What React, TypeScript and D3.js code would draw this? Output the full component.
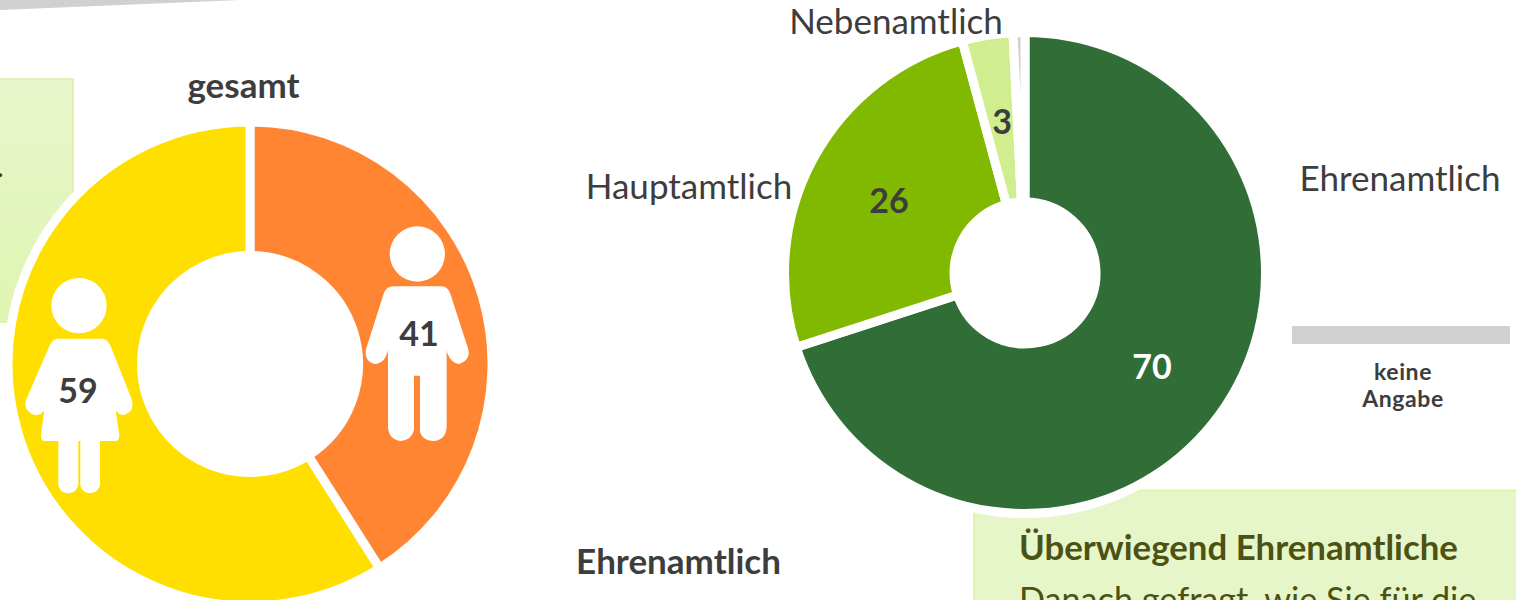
import React from 'react';
import * as d3 from 'd3';

// Data
const genderValues = [41, 59];
const genderText = ['41', '59'];
const genderColors = ['#FF8533', '#FFDF00'];

const roleLabels = ['Ehrenamtlich', 'Hauptamtlich', 'Nebenamtlich', 'keine Angabe'];
const roleValues = [70, 25.8, 3.4, 0.8];
const roleText = ['70', '26', '3'];
const roleColors = ['#316E37', '#80B900', '#D0EE8F', '#D0D0D0'];

const font = 'Lato, sans-serif';
const textDark = '#3d3d3d';

// Icons, drawn at 3x and scaled down
const manBody =
  'M160 229 L305 229 Q322 230 330 248 L385 418 Q392 450 358 462 Q335 462 322 430 L320 420 L320 650 Q318 690 280 693 Q245 690 240 665 L240 497 L222 497 L222 660 Q215 690 182 693 Q146 688 144 650 L144 420 Q135 460 105 462 Q72 455 78 418 L132 248 Q140 230 160 229 Z';
const womanBody =
  'M172 236 L308 236 Q322 238 330 254 L396 420 Q404 455 372 465 Q355 465 347 450 L358 525 Q358 543 345 543 L300 543 L300 675 Q295 698 270 700 Q245 698 241 675 L241 543 L235 543 L235 675 Q230 698 205 700 Q178 698 175 675 L175 543 L132 543 Q122 540 123 525 L133 450 Q125 465 105 465 Q70 455 78 420 L150 254 Q158 238 172 236 Z';

const pieGen = d3.pie<number>().sort(null).value(d => d);

function Ring({ cx, cy, outer, inner, values, colors }: {
  cx: number; cy: number; outer: number; inner: number; values: number[]; colors: string[];
}) {
  // stroke eats half its width on each edge, so grow the arc to compensate
  const arc = d3.arc<d3.PieArcDatum<number>>().innerRadius(inner - 4.5).outerRadius(outer + 4.5);
  return (
    <g transform={`translate(${cx},${cy})`}>
      <circle r={outer + 8} fill="#fff" />
      {pieGen(values).map((d, i) => (
        <path key={i} d={arc(d) || ''} fill={colors[i]} stroke="#fff" strokeWidth={9} />
      ))}
    </g>
  );
}

function Label({ x, y, size, weight = 400, fill = textDark, anchor = 'middle', spacing = 0, children }: any) {
  return (
    <text x={x} y={y} fontSize={size} fontWeight={weight} fill={fill} textAnchor={anchor} fontFamily={font} letterSpacing={spacing}>
      {children}
    </text>
  );
}

export default function App() {
  return (
    <svg width={1516} height={600} style={{ position: 'absolute', left: 0, top: 0, background: '#fff' }}>
      <defs>
        <linearGradient id="boxFill" x1="0" y1="0" x2="0" y2="1">
          <stop offset="0" stopColor="#E8F6CB" />
          <stop offset="1" stopColor="#DFF5B2" />
        </linearGradient>
      </defs>

      {/* slide decoration and text boxes */}
      <path d="M0 0 L240 0 L0 10 Z" fill="#D0D0D0" />
      <rect x={-5} y={79} width={78} height={243} fill="url(#boxFill)" stroke="#D8EFA6" strokeWidth={1.5} />
      <Label x={-3} y={177} size={28} anchor="start" fill="#333">.</Label>
      <rect x={974} y={490.5} width={560} height={130} fill="#E7F6C8" stroke="#D8EFA6" strokeWidth={1.5} />

      {/* left donut */}
      <Ring cx={250} cy={364} outer={237.5} inner={113} values={genderValues} colors={genderColors} />
      <g fill="#fff">
        <g transform="translate(340,210) scale(0.3333)">
          <circle cx={232} cy={132} r={83} />
          <path d={manBody} />
        </g>
        <g transform="translate(0,260) scale(0.3333)">
          <circle cx={237} cy={137} r={83} />
          <path d={womanBody} />
        </g>
      </g>
      <Label x={243.5} y={98} size={35} weight={700}>gesamt</Label>
      <Label x={419} y={346} size={34} weight={700}>{genderText[0]}</Label>
      <Label x={78} y={403} size={34} weight={700}>{genderText[1]}</Label>

      {/* right donut */}
      <Ring cx={1025} cy={273} outer={236} inner={75.5} values={roleValues} colors={roleColors} />
      <Label x={1152} y={379} size={34} weight={700} fill="#fff">{roleText[0]}</Label>
      <Label x={889} y={213} size={34} weight={700}>{roleText[1]}</Label>
      <Label x={1002} y={134} size={34} weight={700}>{roleText[2]}</Label>
      <Label x={1400} y={191} size={35}>{roleLabels[0]}</Label>
      <Label x={689} y={199} size={35}>{roleLabels[1]}</Label>
      <Label x={896} y={34} size={35}>{roleLabels[2]}</Label>

      {/* keine Angabe legend */}
      <rect x={1292} y={326} width={218} height={18} fill={roleColors[3]} />
      <Label x={1403} y={380} size={23} weight={700} spacing={0.6}>keine</Label>
      <Label x={1403} y={407} size={23} weight={700} spacing={0.6}>Angabe</Label>

      <Label x={678.5} y={574} size={35} weight={700}>Ehrenamtlich</Label>
      <Label x={1019} y={560} size={34.8} weight={700} fill="#4B5214" anchor="start">Überwiegend Ehrenamtliche</Label>
      <Label x={1019} y={612} size={34.2} fill="#4B5214" anchor="start">Danach gefragt, wie Sie für die</Label>
    </svg>
  );
}
